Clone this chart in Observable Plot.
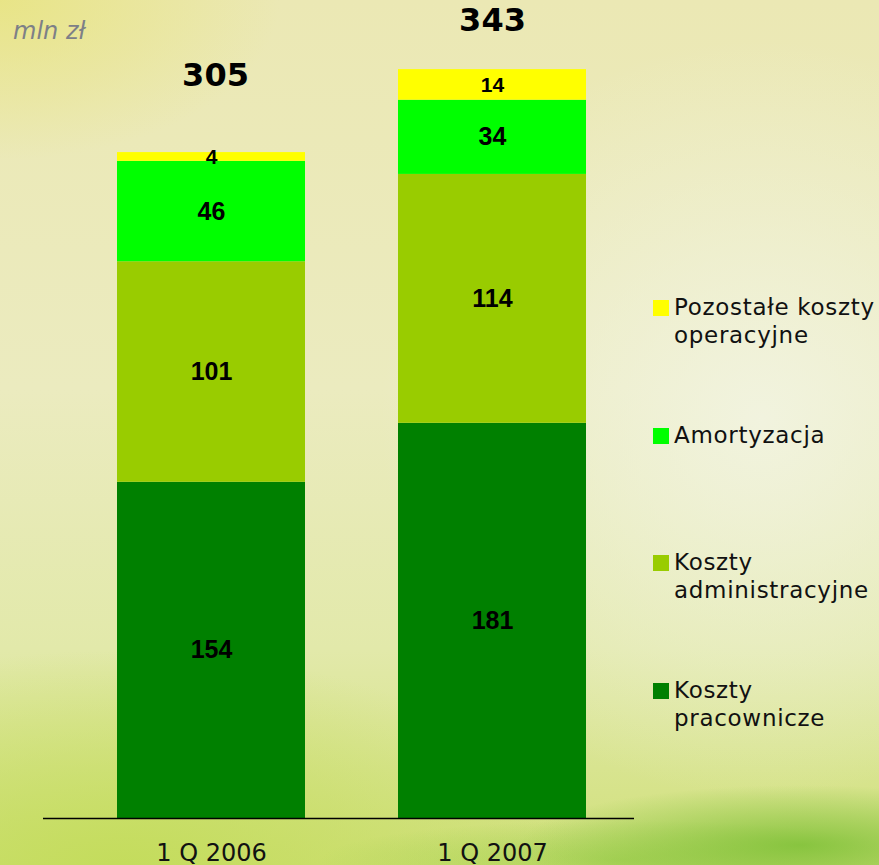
<!DOCTYPE html>
<html><head><meta charset="utf-8">
<script src="https://cdn.jsdelivr.net/npm/d3@7"></script>
<script src="https://cdn.jsdelivr.net/npm/@observablehq/plot@0.6"></script>
<style>
html,body{margin:0;padding:0;}
body{width:879px;height:865px;overflow:hidden;position:relative;
background:
 radial-gradient(ellipse 280px 60px at 800px 845px, rgba(120,190,50,0.8), rgba(120,190,50,0) 100%),
 radial-gradient(ellipse 300px 40px at 620px 860px, rgba(140,200,60,0.5), rgba(140,200,60,0) 100%),
 radial-gradient(ellipse 460px 220px at 120px 870px, rgba(195,220,90,0.95), rgba(195,220,90,0) 100%),
 radial-gradient(ellipse 280px 160px at 0px 0px, rgba(232,228,130,0.9), rgba(232,228,130,0) 100%),
 radial-gradient(ellipse 380px 380px at 760px 420px, rgba(242,244,226,0.9), rgba(242,244,226,0) 100%),
 linear-gradient(180deg, #ebe8b4 0%, #ebebbf 45%, #e2e9aa 75%, #d0e07a 100%);
}
#legend div{position:absolute;font-family:"DejaVu Sans",Verdana,sans-serif;font-size:23px;color:#111;line-height:28px;letter-spacing:0.7px;white-space:nowrap;}
#legend span.sw{position:absolute;width:16px;height:16px;}
#unit{position:absolute;left:13px;top:17px;font-family:"DejaVu Sans",Verdana,sans-serif;font-style:italic;font-size:24px;color:#7d8087;}
</style></head>
<body>
<div id="chart"></div>
<div id="unit">mln zł</div>
<div id="legend"></div>
<script>
const categories = ["1 Q 2006", "1 Q 2007"];
const seriesNames = ["Koszty pracownicze", "Koszty administracyjne", "Amortyzacja", "Pozostałe koszty operacyjne"];
const pracownicze = [154, 181];
const administracyjne = [101, 114];
const amortyzacja = [46, 34];
const pozostale = [4, 14];
const totals = [305, 343];
const colors = ["#008000", "#99cc00", "#00ff00", "#ffff00"];

const seriesValues = [pracownicze, administracyjne, amortyzacja, pozostale];
const data = [];
seriesNames.forEach((s, si) => categories.forEach((c, ci) => data.push({cat: c, series: s, value: seriesValues[si][ci]})));
const totalData = categories.map((c, i) => ({cat: c, total: totals[i]}));

const chart = Plot.plot({
  width: 879, height: 865,
  marginLeft: 43, marginRight: 245, marginTop: 32, marginBottom: 47,
  style: {background: "transparent", overflow: "visible"},
  x: {domain: categories, range: [71, 633], paddingInner: 0.33, paddingOuter: 0.165, label: null},
  y: {domain: [0, 360], axis: null},
  color: {domain: seriesNames, range: colors},
  marks: [
    Plot.barY(data, {x: "cat", y: "value", fill: "series", order: seriesNames}),
    Plot.text(data, Plot.stackY({x: "cat", y: "value", z: "series", order: seriesNames, text: d => String(d.value),
      fontSize: d => d.value < 20 ? 21 : 25, fontWeight: "bold", fontFamily: "'Liberation Sans', Arial, sans-serif", fill: "#000"})),
    Plot.text(totalData, {filter: d => d.cat === categories[0], x: "cat", y: "total", text: d => String(d.total), dy: -77, dx: 4,
      fontSize: 32, fontWeight: "bold", fontFamily: "'DejaVu Sans', Verdana, sans-serif", fill: "#000"}),
    Plot.text(totalData, {filter: d => d.cat === categories[1], x: "cat", y: "total", text: d => String(d.total), dy: -49,
      fontSize: 32, fontWeight: "bold", fontFamily: "'DejaVu Sans', Verdana, sans-serif", fill: "#000"}),
    Plot.ruleY([0], {stroke: "#000", strokeWidth: 1.5}),
    Plot.axisX({tickSize: 0, tickPadding: 25, fontSize: 24, fontFamily: "'DejaVu Sans', Verdana, sans-serif", fill: "#111", label: null})
  ]
});
document.getElementById("chart").appendChild(chart);

// legend (top to bottom: reverse stacking order)
const legendItems = [
  {name: ["Pozostałe koszty", "operacyjne"], color: colors[3], top: 300},
  {name: ["Amortyzacja"], color: colors[2], top: 428},
  {name: ["Koszty", "administracyjne"], color: colors[1], top: 555},
  {name: ["Koszty", "pracownicze"], color: colors[0], top: 683}
];
const lg = document.getElementById("legend");
legendItems.forEach(it => {
  const sw = document.createElement("span");
  sw.className = "sw";
  sw.style.left = "653px"; sw.style.top = it.top + "px"; sw.style.background = it.color;
  lg.appendChild(sw);
  const t = document.createElement("div");
  t.style.left = "674px"; t.style.top = (it.top - 7) + "px";
  t.innerHTML = it.name.join("<br>");
  lg.appendChild(t);
});
</script>
</body></html>
